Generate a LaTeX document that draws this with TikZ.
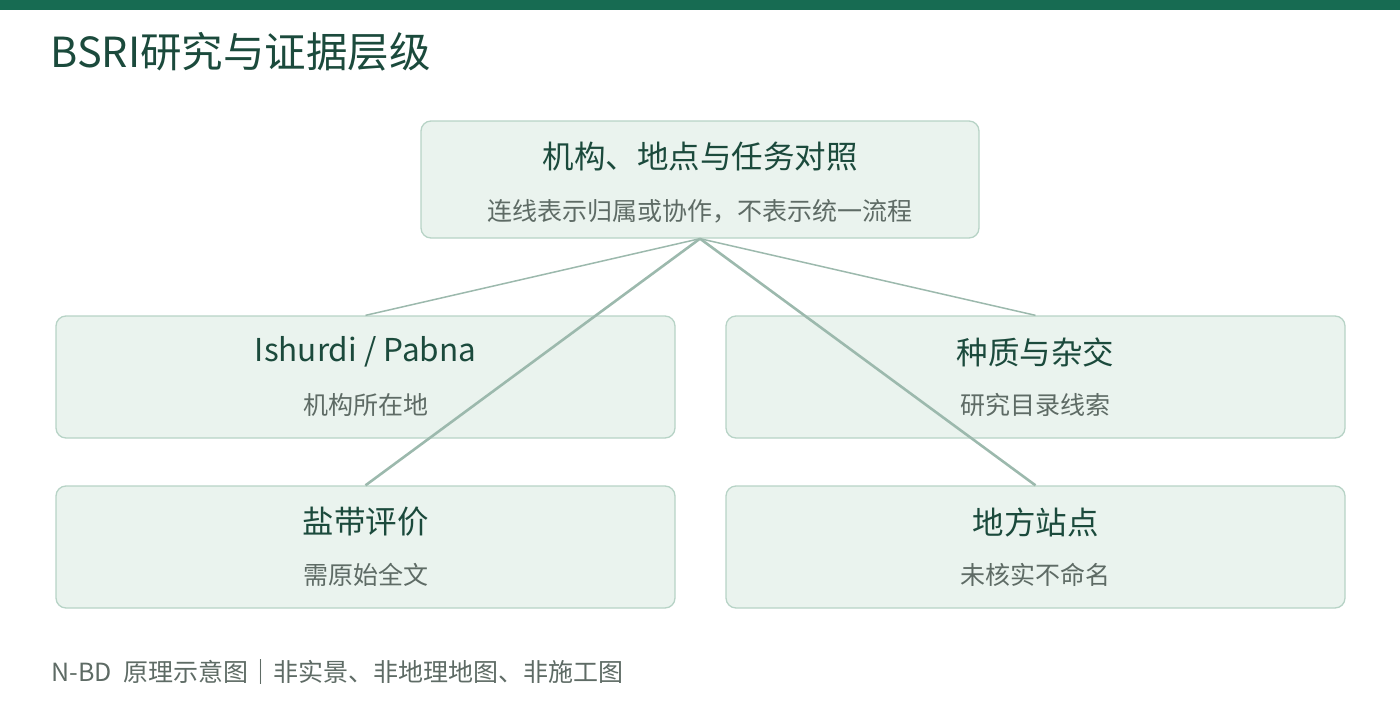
\documentclass[tikz,border=0pt]{standalone}
\usepackage{fontspec}
\setmainfont{Noto Sans CJK SC}
\definecolor{barGreen}{HTML}{176B52}
\definecolor{titleInk}{HTML}{1B4A3C}
\definecolor{boxFill}{HTML}{EAF3EE}
\definecolor{boxLine}{HTML}{B7D3C6}
\definecolor{subInk}{HTML}{5E6B65}
\definecolor{linkInk}{HTML}{9CB9AD}
\begin{document}
\begin{tikzpicture}[x=1pt, y=-1pt,
  box/.style = {draw=boxLine, fill=boxFill, rounded corners=10pt, line width=1.3pt},
  head/.style = {text=titleInk, font=\fontsize{31.5}{35}\selectfont},
  sub/.style = {text=subInk, font=\fontsize{25}{29}\selectfont},
  thin link/.style = {draw=linkInk, line width=1.5pt},
  thick link/.style = {draw=linkInk, line width=2.6pt}]

\useasboundingbox (0,0) rectangle (1400,720);
\fill[barGreen] (0,0) rectangle (1400,10);
\node[anchor=west, text=titleInk, font=\fontsize{41.5}{45}\selectfont] (title) at (47,52) {BSRI研究与证据层级};

% boxes
\node[box, minimum width=558pt, minimum height=117pt] (task) at (700,179.5) {};
\node[box, minimum width=619pt, minimum height=122pt] (site) at (365.5,377) {};
\node[box, minimum width=619pt, minimum height=122pt] (germ) at (1035.5,377) {};
\node[box, minimum width=619pt, minimum height=122pt] (salt) at (365.5,547) {};
\node[box, minimum width=619pt, minimum height=122pt] (local) at (1035.5,547) {};

% links
\draw[thin link] (task.south) -- (site.north);
\draw[thin link] (task.south) -- (germ.north);
\draw[thick link] (task.south) -- (salt.north);
\draw[thick link] (task.south) -- (local.north);

% texts
\node[head] (taskHead) at (700,157) {机构、地点与任务对照};
\node[sub] (taskSub) at (700,211) {连线表示归属或协作，不表示统一流程};
\node[head] (siteHead) at (365.5,352) {Ishurdi / Pabna};
\node[sub] (siteSub) at (365.5,405) {机构所在地};
\node[head] (germHead) at (1035.5,352) {种质与杂交};
\node[sub] (germSub) at (1035.5,405) {研究目录线索};
\node[head] (saltHead) at (365.5,522) {盐带评价};
\node[sub] (saltSub) at (365.5,575) {需原始全文};
\node[head] (localHead) at (1035.5,522) {地方站点};
\node[sub] (localSub) at (1035.5,575) {未核实不命名};

\node[anchor=west, text=subInk, font=\fontsize{25}{29}\selectfont] (foot) at (48,672) {N-BD\ \ 原理示意图｜非实景、非地理地图、非施工图};
\end{tikzpicture}
\end{document}
